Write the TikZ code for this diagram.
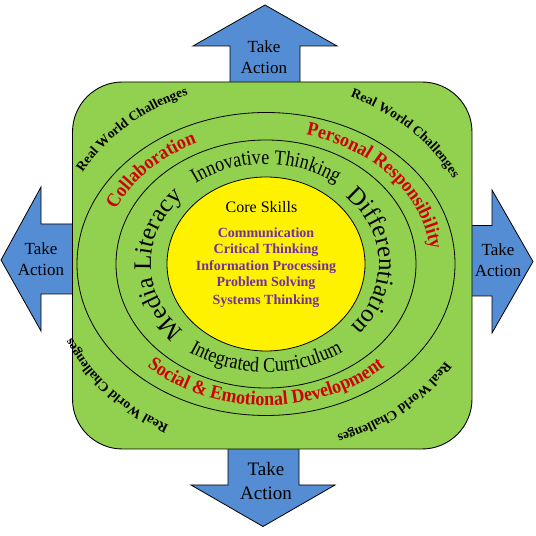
\documentclass[tikz,border=0pt]{standalone}
\usepackage{fontspec}
\setmainfont{Liberation Serif}
\newfontfamily\condfont[FakeStretch=0.86]{Liberation Serif}
\newfontfamily\redfont[FakeStretch=0.92]{Liberation Serif}
\usetikzlibrary{decorations.text,shapes.geometric}
\definecolor{gbg}{HTML}{92D050}
\definecolor{ablue}{HTML}{548DD4}
\definecolor{pur}{HTML}{7030A0}
\definecolor{rred}{HTML}{D00000}
\newcommand\rwcf{\fontsize{13.5}{15}\selectfont\bfseries}
\newcommand\redf{\redfont\fontsize{19.5}{22}\selectfont\bfseries}
\newcommand\innf{\condfont\fontsize{21}{24}\selectfont}
\newcommand\bigtf{\fontsize{25}{28}\selectfont}
\tikzset{
  arrowshape/.style={draw=black, line width=0.8pt, fill=ablue, line join=miter},
  ring/.style={ellipse, draw=black, line width=0.8pt, inner sep=0pt},
  tatext/.style={align=center, font=\fontsize{17}{21.5}\selectfont},
  skill/.style={anchor=base, text=pur, font=\fontsize{14}{16}\selectfont\bfseries},
  rwc/.style={decorate, decoration={text along path, text align=center, text={|\rwcf|Real World Challenges}}},
}
\begin{document}
\begin{tikzpicture}[x=1pt,y=1pt]
\useasboundingbox (0,0) rectangle (536,536);
% arrows
\draw[arrowshape] (230,446) -- (230,490) -- (193,490) -- (265,531) -- (337,490) -- (300,490) -- (300,446) -- cycle;
\draw[arrowshape] (228,96) -- (228,51) -- (191,51) -- (263,9.5) -- (335,51) -- (299,51) -- (299,96) -- cycle;
\draw[arrowshape] (80,312) -- (41,312) -- (41,349) -- (1,276) -- (41,205) -- (41,242) -- (80,242) -- cycle;
\draw[arrowshape] (465,310.4) -- (492,310.4) -- (492,346) -- (533,274.5) -- (492,203) -- (492,240) -- (465,240) -- cycle;
% green square
\node[draw=black, line width=0.9pt, fill=gbg, rounded corners=50pt, minimum width=399.5pt, minimum height=367pt, inner sep=0pt] (sq) at (272.25,270.5) {};
\coordinate (C) at (266,272);
\node[ring, minimum width=378pt, minimum height=303pt] (outer) at (C) {};
\node[ring, minimum width=300pt, minimum height=248pt] (middle) at (C) {};
\node[ring, fill=yellow, minimum width=198pt, minimum height=174pt] (core) at (C) {};
% Take Action labels
\node[tatext] (ta1) at (264,479) {Take\\Action};
\node[tatext, font=\fontsize{19}{24}\selectfont] (ta2) at (266,55) {Take\\Action};
\node[tatext] (ta3) at (41,277) {Take\\Action};
\node[tatext] (ta4) at (498,276) {Take\\Action};
% Real World Challenges
\path[rwc] (C) ++(172:212pt and 182pt) arc[start angle=172, end angle=92, x radius=212pt, y radius=182pt];
\path[rwc] (C) ++(86:212pt and 182pt) arc[start angle=86, end angle=6, x radius=212pt, y radius=182pt];
\path[rwc] (C) ++(-10:212pt and 182pt) arc[start angle=-10, end angle=-90, x radius=212pt, y radius=182pt];
\path[rwc] (C) ++(262:212pt and 182pt) arc[start angle=262, end angle=182, x radius=212pt, y radius=182pt];
% red ring texts
\path[decorate, decoration={text along path, text align=center, text color=rred, text={|\redf|Collaboration}}]
  (C) ++(177:165pt and 133pt) arc[start angle=177, end angle=97, x radius=165pt, y radius=133pt];
\path[decorate, decoration={text along path, text align=center, text color=rred, text={|\redf|Personal Responsibility}}]
  (C) ++(98.5:165pt and 133pt) arc[start angle=98.5, end angle=-21.5, x radius=165pt, y radius=133pt];
\path[decorate, decoration={text along path, text align=center, text color=rred, text={|\redf|Social {\&} Emotional Development}}]
  (C) ++(200:173pt and 141.5pt) arc[start angle=200, end angle=340, x radius=173pt, y radius=141.5pt];
% black inner ring texts
\path[decorate, decoration={text along path, text align=center, text={|\innf|Innovative Thinking}}]
  (C) ++(150:119pt and 100pt) arc[start angle=150, end angle=30, x radius=119pt, y radius=100pt];
\path[decorate, decoration={text along path, text align=center, text={|\innf|Integrated Curriculum}}]
  (C) ++(200:133pt and 108pt) arc[start angle=200, end angle=340, x radius=133pt, y radius=108pt];
\path[decorate, decoration={text along path, text align=center, text={|\bigtf|Media Literacy}}]
  (C) ++(240:115pt and 96pt) arc[start angle=240, end angle=120, x radius=115pt, y radius=96pt];
\path[decorate, decoration={text along path, text align=center, text={|\bigtf|Differentiation}}]
  (C) ++(62:113pt and 95pt) arc[start angle=62, end angle=-58, x radius=113pt, y radius=95pt];
% core skills
\node[anchor=base, font=\fontsize{16}{18}\selectfont] (cs) at (261.5,323) {Core Skills};
\node[skill] (s1) at (266,298.4) {Communication};
\node[skill] (s2) at (266,282.3) {Critical Thinking};
\node[skill] (s3) at (266,265.2) {Information Processing};
\node[skill] (s4) at (266,249) {Problem Solving};
\node[skill] (s5) at (266,231.7) {Systems Thinking};
\end{tikzpicture}
\end{document}
